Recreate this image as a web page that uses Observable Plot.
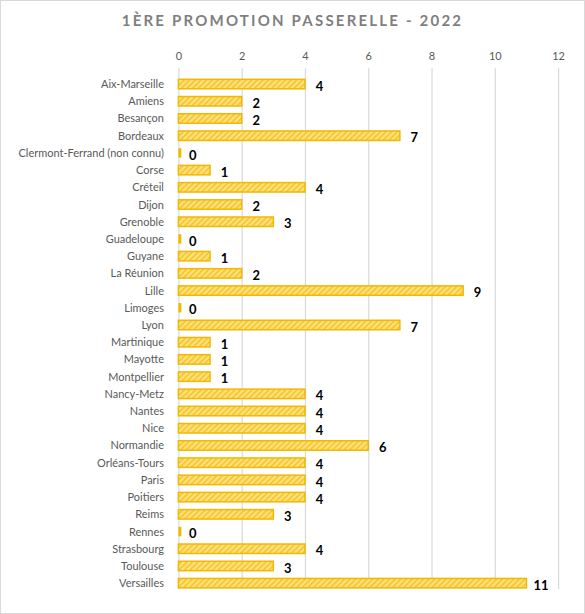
<!DOCTYPE html>
<html><head><meta charset="utf-8">
<script src="https://cdn.jsdelivr.net/npm/d3@7"></script>
<script src="https://cdn.jsdelivr.net/npm/@observablehq/plot@0.6"></script>
<style>
html,body{margin:0;padding:0;background:#fff;}
#wrap{position:relative;width:583px;height:612px;border:1px solid #d9d9d9;background:#fff;font-family:Lato,"Open Sans",sans-serif;overflow:hidden;}
#title{position:absolute;left:0;top:10px;width:583px;text-align:center;font-size:15px;font-weight:bold;letter-spacing:2.2px;color:#7f7f7f;}
#chart{position:absolute;left:0;top:41px;}
</style></head>
<body><div id="wrap"><div id="title">1ÈRE PROMOTION PASSERELLE - 2022</div><div id="chart"></div></div>
<script>
const categories = ["Aix-Marseille","Amiens","Besançon","Bordeaux","Clermont-Ferrand (non connu)","Corse","Créteil","Dijon","Grenoble","Guadeloupe","Guyane","La Réunion","Lille","Limoges","Lyon","Martinique","Mayotte","Montpellier","Nancy-Metz","Nantes","Nice","Normandie","Orléans-Tours","Paris","Poitiers","Reims","Rennes","Strasbourg","Toulouse","Versailles"];
const values = [4,2,2,7,0,1,4,2,3,0,1,2,9,0,7,1,1,1,4,4,4,6,4,4,4,3,0,4,3,11];
const xTicks = [0,2,4,6,8,10,12];

const data = categories.map((c,i)=>({cat:c, v:values[i]}));
const step = 17.27;
const p = 0.45;
const c0 = 42.2;
const start = c0 - step*(p + (1-p)/2);
const plot = Plot.plot({
  width: 585,
  height: 573,
  marginLeft: 178,
  marginRight: 26,
  marginTop: 26,
  marginBottom: 24,
  style: {fontFamily: "Lato, 'Open Sans', sans-serif", fontSize: "11px", color: "#595959", background: "transparent"},
  x: {domain: [0,12], ticks: xTicks, axis: "top", label: null, tickSize: 0, tickPadding: 8},
  y: {domain: categories, range: [start, start + step*(categories.length + p)], padding: p, round: false, label: null, tickSize: 0, tickPadding: 15},
  marks: [
    Plot.ruleX(xTicks, {stroke: "#d9d9d9", strokeWidth: 1.2}),
    Plot.barX(data, {y: "cat", x1: 0, x2: "v", fill: "url(#hatch)", stroke: "#f2b800", strokeWidth: 1.5}),
    Plot.tickX(data.filter(d => d.v === 0), {y: "cat", x: "v", stroke: "#f2b800", strokeWidth: 3, dx: 1}),
    Plot.text(data, {y: "cat", x: "v", text: d => String(d.v), dx: 14, dy: 2, fontWeight: "bold", fontSize: 13, fill: "#000"})
  ]
});
document.getElementById("chart").appendChild(plot);
// hatch pattern
const svg = d3.select(plot);
const defs = svg.insert("defs", ":first-child");
const pat = defs.append("pattern").attr("id","hatch").attr("patternUnits","userSpaceOnUse").attr("width",4).attr("height",4).attr("patternTransform","rotate(45)");
pat.append("rect").attr("width",4).attr("height",4).attr("fill","#ffe08a");
pat.append("rect").attr("width",1.6).attr("height",4).attr("fill","#f5c518");
</script>
</body></html>
